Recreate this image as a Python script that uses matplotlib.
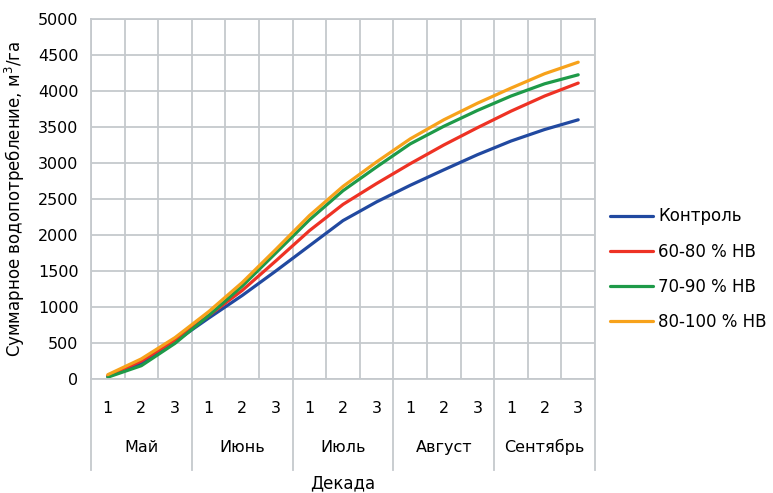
import numpy as np
import matplotlib
matplotlib.use("Agg")
import matplotlib.pyplot as plt
import matplotlib.transforms as mtransforms

# decade labels and months
decades = ["1", "2", "3"] * 5
months = ["Май", "Июнь", "Июль", "Август", "Сентябрь"]

# cumulative water use, m3/ha
control = [35, 225, 520, 845, 1160, 1500, 1850, 2200, 2460, 2690, 2905, 3115, 3305, 3465, 3600]
hv_60_80 = [45, 250, 540, 880, 1230, 1640, 2060, 2425, 2715, 2990, 3250, 3490, 3720, 3930, 4110]
hv_70_90 = [25, 185, 495, 880, 1290, 1750, 2210, 2615, 2945, 3265, 3510, 3730, 3930, 4100, 4225]
hv_80_100 = [60, 280, 575, 935, 1340, 1800, 2270, 2675, 3015, 3335, 3600, 3830, 4040, 4240, 4400]

series = [
    ("Контроль", control, "#2149a0"),
    ("60-80 % НВ", hv_60_80, "#ee3224"),
    ("70-90 % НВ", hv_70_90, "#1e9a48"),
    ("80-100 % НВ", hv_80_100, "#f7a21b"),
]

plt.rcParams['font.family'] = ['DejaVu Sans']
grid_col = "#c5c9cd"

fig = plt.figure(figsize=(7.73, 4.93), dpi=100)
ax = fig.add_axes([91 / 773, 1 - 379 / 493, 504 / 773, 360 / 493])

x = np.arange(len(decades))
for name, vals, col in series:
    ax.plot(x, vals, color=col, lw=2.3, label=name, solid_capstyle="round")

ax.set_xlim(-0.5, len(decades) - 0.5)
ax.set_ylim(0, 5000)
ax.set_yticks(np.arange(0, 5001, 500))
ax.set_xticks(np.arange(-0.5, len(decades), 1.0))
ax.set_xticklabels([])
ax.tick_params(length=0, labelsize=11.5, pad=9)
ax.grid(True, color=grid_col, lw=1.3)
ax.set_axisbelow(True)
for s in ax.spines.values():
    s.set_color(grid_col)
    s.set_linewidth(1.3)

# two-level category axis
trans = mtransforms.blended_transform_factory(ax.transData, ax.transAxes)
for i, d in enumerate(decades):
    ax.text(i, -0.083, d, transform=trans, ha="center", va="center", fontsize=11.5)
for m, name in enumerate(months):
    ax.text(m * 3 + 1, -0.189, name, transform=trans, ha="center", va="center", fontsize=11.5)
for b in range(len(months) + 1):
    ax.plot([b * 3 - 0.5] * 2, [0, -0.253], transform=trans, color=grid_col,
            lw=1.3, clip_on=False)

ax.text(0.5, -0.289, "Декада", transform=ax.transAxes, ha="center", va="center", fontsize=12)
ax.set_ylabel("Суммарное водопотребление, м$^3$/га", fontsize=12, labelpad=8)

ax.legend(loc="center left", bbox_to_anchor=(1.0, 0.305), frameon=False,
          fontsize=12, handlelength=2.6, handletextpad=0.3, labelspacing=1.03)

fig.savefig("out.png", dpi=100)
